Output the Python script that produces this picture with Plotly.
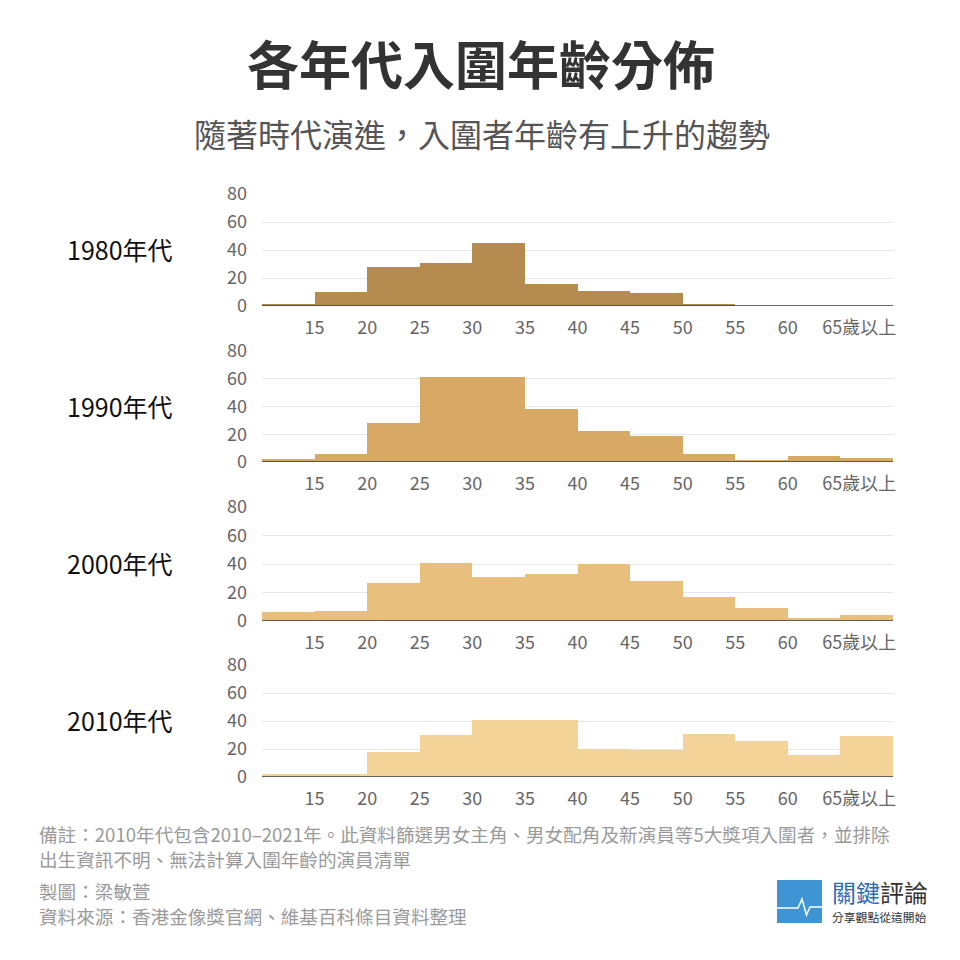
import plotly.graph_objects as go

# ---- data ----
decades = ["1980年代", "1990年代", "2000年代", "2010年代"]
bin_centers = [12.5, 17.5, 22.5, 27.5, 32.5, 37.5, 42.5, 47.5, 52.5, 57.5, 62.5, 67.5]
counts_1980 = [1, 10, 28, 31, 45, 16, 11, 9, 1, 0, 0, 0]
counts_1990 = [2, 6, 28, 61, 61, 38, 22, 19, 6, 1, 4, 3]
counts_2000 = [6, 7, 27, 41, 31, 33, 40, 28, 17, 9, 2, 4]
counts_2010 = [2, 2, 18, 30, 41, 41, 20, 19, 31, 26, 16, 29]
series = [counts_1980, counts_1990, counts_2000, counts_2010]
colors = ["#B58B50", "#D8A964", "#E8BF7C", "#F3D398"]
x_tick_vals = [15, 20, 25, 30, 35, 40, 45, 50, 55, 60, 66.8]
x_tick_text = ["15", "20", "25", "30", "35", "40", "45", "50", "55", "60", "65歲以上"]
y_tick_vals = [0, 20, 40, 60, 80]

FONT = "Noto Sans CJK TC"
W = H = 960
OFF = 8  # page offset compensation


def px(x):
    return (x - OFF) / W


def py(y):
    return 1 - (y - OFF) / H


# panel pixel boxes (top, bottom)
panels_px = [(194, 306), (351, 462), (507, 621), (665, 777)]
x_px = (262, 893)

fig = go.Figure()
layout = dict(
    width=W, height=H,
    margin=dict(l=0, r=0, t=0, b=0, autoexpand=False),
    paper_bgcolor="white", plot_bgcolor="white",
    showlegend=False, bargap=0,
    font=dict(family=FONT, color="#666666"),
)

shapes = []
annotations = []
for i, (vals, col, (top, bot)) in enumerate(zip(series, colors, panels_px)):
    xa = "x" if i == 0 else f"x{i+1}"
    ya = "y" if i == 0 else f"y{i+1}"
    fig.add_trace(go.Bar(
        x=bin_centers, y=vals, width=5,
        marker=dict(color=col, line=dict(width=0)),
        xaxis=xa, yaxis=ya, hoverinfo="x+y",
    ))
    xkey = "xaxis" if i == 0 else f"xaxis{i+1}"
    ykey = "yaxis" if i == 0 else f"yaxis{i+1}"
    layout[xkey] = dict(
        domain=[px(x_px[0]), px(x_px[1])],
        range=[10, 70], anchor=ya,
        tickvals=x_tick_vals, ticktext=x_tick_text,
        showgrid=False, zeroline=False, showline=False,
        ticks="", ticklabelstandoff=9,
        tickfont=dict(family=FONT, size=18, color="#666666"),
        fixedrange=True,
    )
    layout[ykey] = dict(
        domain=[py(bot), py(top)],
        range=[0, 80], anchor=xa,
        tickvals=y_tick_vals,
        showgrid=True, gridcolor="#E6E6E6", gridwidth=1,
        zeroline=False, showline=False,
        ticks="", ticklabelstandoff=14,
        tickfont=dict(family=FONT, size=18, color="#666666"),
        fixedrange=True,
    )
    shapes.append(dict(type="line", xref=xa, yref=ya, x0=10, x1=70, y0=0, y1=0,
                       line=dict(color="#3a3a3a", width=1.5), layer="above"))
    annotations.append(dict(
        text=decades[i], x=px(120), y=py((top + bot) / 2 - 1),
        xref="paper", yref="paper", showarrow=False,
        xanchor="center", yanchor="middle",
        font=dict(family=FONT, size=25, color="#111111"),
    ))

# titles
annotations.append(dict(text="<b>各年代入圍年齡分佈</b>", x=px(481), y=py(62),
                        xref="paper", yref="paper", showarrow=False,
                        xanchor="center", yanchor="middle",
                        font=dict(family=FONT, size=52, color="#333333")))
annotations.append(dict(text="隨著時代演進，入圍者年齡有上升的趨勢", x=px(481.5), y=py(133),
                        xref="paper", yref="paper", showarrow=False,
                        xanchor="center", yanchor="middle",
                        font=dict(family=FONT, size=32, color="#555555")))

# footnotes
notes = [
    ("備註：2010年代包含2010–2021年。此資料篩選男女主角、男女配角及新演員等5大獎項入圍者，並排除", 833),
    ("出生資訊不明、無法計算入圍年齡的演員清單", 858),
    ("製圖：梁敏萱", 890),
    ("資料來源：香港金像獎官網、維基百科條目資料整理", 915),
]
for txt, yy in notes:
    annotations.append(dict(text=txt, x=px(37), y=py(yy), xref="paper", yref="paper",
                            showarrow=False, xanchor="left", yanchor="middle",
                            font=dict(family=FONT, size=18.6, color="#9a9a9a")))

# logo
shapes.append(dict(type="rect", xref="paper", yref="paper",
                   x0=px(777), x1=px(822), y0=py(923), y1=py(880),
                   fillcolor="#3F94D3", line=dict(width=0), layer="above"))
pts = [(777, 908), (798, 908), (802, 899), (806.5, 915), (810, 907), (822, 907)]
path = "M " + " L ".join(f"{px(x)},{py(y)}" for x, y in pts)
shapes.append(dict(type="path", xref="paper", yref="paper", path=path,
                   line=dict(color="white", width=1.5), layer="above"))
annotations.append(dict(text="<span style='color:#2E6DB4'>關鍵</span>評論",
                        x=px(830), y=py(891), xref="paper", yref="paper",
                        showarrow=False, xanchor="left", yanchor="middle",
                        font=dict(family=FONT, size=24, color="#333333")))
annotations.append(dict(text="分享觀點從這開始", x=px(830), y=py(916),
                        xref="paper", yref="paper", showarrow=False,
                        xanchor="left", yanchor="middle",
                        font=dict(family=FONT, size=11.8, color="#333333")))

layout["shapes"] = shapes
layout["annotations"] = annotations
fig.update_layout(**layout)
fig.write_html("out.html")
